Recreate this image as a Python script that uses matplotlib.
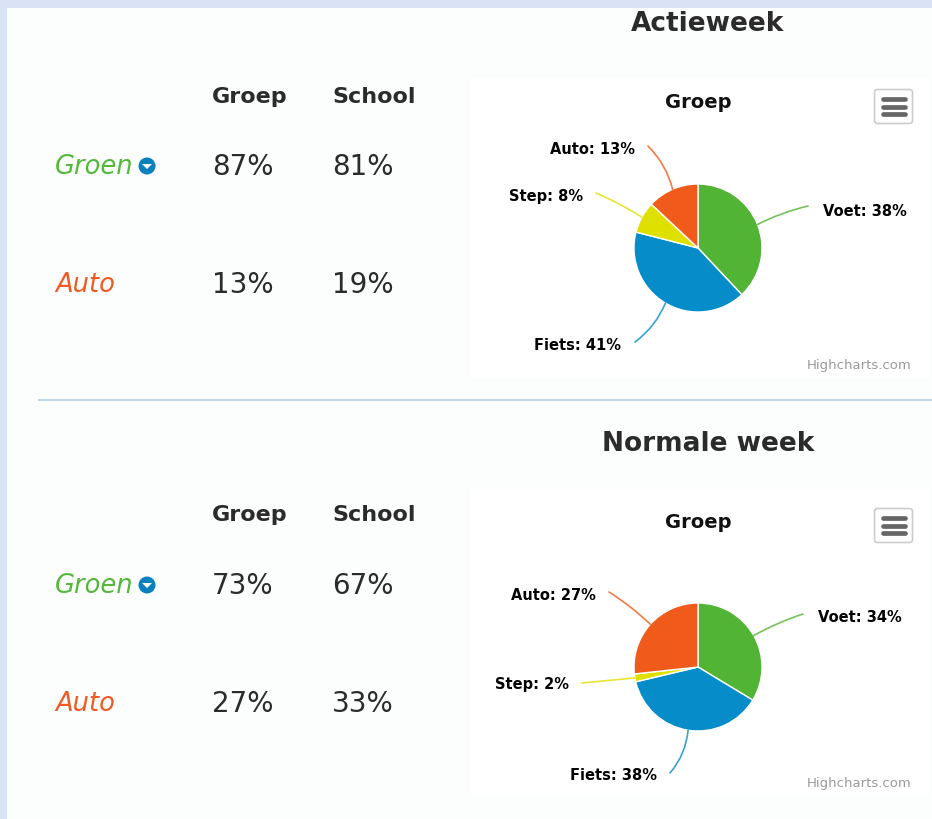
import numpy as np
import matplotlib
matplotlib.use("Agg")
import matplotlib.pyplot as plt
from matplotlib.patches import Rectangle, FancyBboxPatch, Circle, Polygon

W = 932
H = 819

# Data
slices = ["Voet", "Fiets", "Step", "Auto"]
actie_vals = [38, 41, 8, 13]
normaal_vals = [34, 38, 2, 27]
slice_colors = ["#52b434", "#068cc8", "#e0e000", "#f05a1a"]

actie_table = {"Groen": [87, 81], "Auto": [13, 19]}
normaal_table = {"Groen": [73, 67], "Auto": [27, 33]}

# Label and connector positions in pixels
actie_text = [(864.5, 211), (577, 346), (546, 196), (592, 150)]
actie_ends = [(808, 206), (635, 342), (596, 193), (648, 146)]
actie_rad = [-0.06, -0.14, 0.04, 0.14]
normaal_text = [(859.5, 617), (614, 776), (532, 685), (553, 596)]
normaal_ends = [(803, 614), (670, 773), (582, 683), (609, 592)]
normaal_rad = [-0.05, -0.16, 0.0, 0.05]

text_col = "#2b2b2b"
green = "#55b83a"
orange = "#f05a22"

fig = plt.figure(figsize=(W / 100, H / 100), dpi=100, facecolor="#fcfefe")

# Pixel coordinate overlay for all the page stuff
bg = fig.add_axes([0, 0, 1, 1], zorder=0)
bg.set_xlim(0, W)
bg.set_ylim(H, 0)
bg.axis("off")
bg.add_patch(Rectangle((0, 0), W, 8, color="#d9e3f5", lw=0))
bg.add_patch(Rectangle((0, 0), 7, H, color="#d9e3f5", lw=0))
bg.add_patch(Rectangle((470, 78), 460, 300, color="white", lw=0))
bg.add_patch(Rectangle((470, 490), 460, 305, color="white", lw=0))
bg.plot([39, W], [400, 400], color="#b4cee6", lw=1.2)

top = fig.add_axes([0, 0, 1, 1], zorder=5)
top.set_xlim(0, W)
top.set_ylim(H, 0)
top.axis("off")
top.patch.set_alpha(0)


def draw_section(title, title_y, table, rows_y, head_y, vals, cy, text_pos, ends, rads):
    top.text(708, title_y, title, fontsize=19, fontweight="bold", color=text_col, ha="center", va="center")
    top.text(250, head_y, "Groep", fontsize=16, fontweight="bold", color=text_col, ha="center", va="center")
    top.text(374, head_y, "School", fontsize=16, fontweight="bold", color=text_col, ha="center", va="center")

    # table rows
    for (name, row), y, col, x in zip(table.items(), rows_y, [green, orange], [94, 85]):
        top.text(x, y, name, fontsize=18.5, style="italic", color=col, ha="center", va="center")
        top.text(243, y, str(row[0]) + "%", fontsize=20, color=text_col, ha="center", va="center")
        top.text(363, y, str(row[1]) + "%", fontsize=20, color=text_col, ha="center", va="center")

    # dropdown icon next to Groen
    icon_y = rows_y[0] - 1
    top.add_patch(Circle((147, icon_y), 8.5, color="#0b80bd", lw=0))
    top.add_patch(Polygon([(142, icon_y - 2), (152, icon_y - 2), (147, icon_y + 3)], color="white", lw=0))

    # the pie
    cx = 698
    r = 64
    ax = fig.add_axes([(cx - r) / W, 1 - (cy + r) / H, 2 * r / W, 2 * r / H], zorder=3)
    ax.pie(vals, colors=slice_colors, startangle=90, counterclock=False,
           wedgeprops={"edgecolor": "white", "linewidth": 1})
    ax.set_xlim(-1, 1)
    ax.set_ylim(-1, 1)

    # connectors start at the middle of each slice's arc
    fracs = np.array(vals) / sum(vals)
    mids = (np.cumsum(fracs) - fracs / 2) * 2 * np.pi
    for i in range(len(slices)):
        sx = cx + r * np.sin(mids[i])
        sy = cy - r * np.cos(mids[i])
        top.annotate("", xy=ends[i], xytext=(sx, sy),
                     arrowprops=dict(arrowstyle="-", color=slice_colors[i], lw=1.2, alpha=0.8,
                                     shrinkA=0, shrinkB=0,
                                     connectionstyle="arc3,rad=%s" % rads[i]))
        top.text(text_pos[i][0], text_pos[i][1], "%s: %d%%" % (slices[i], vals[i]),
                 fontsize=10.5, fontweight="bold", color="black", ha="center", va="center")

    # chart title, credit and menu button
    top.text(cx, cy - 145, "Groep", fontsize=14, fontweight="bold", color="#111111", ha="center", va="center")
    top.text(859, cy + 117, "Highcharts.com", fontsize=9.5, color="#999999", ha="center", va="center")
    by = cy - 141.5
    top.add_patch(FancyBboxPatch((876, by - 15.5), 35, 31, boxstyle="round,pad=1.5,rounding_size=3",
                                 facecolor="white", edgecolor="#cccccc", lw=1.2))
    for dy in [-7.5, 0, 7.5]:
        top.plot([883, 905], [by + dy, by + dy], color="#666666", lw=3.4, solid_capstyle="round")


draw_section("Actieweek", 24, actie_table, [167, 285], 97, actie_vals, 248,
             actie_text, actie_ends, actie_rad)
draw_section("Normale week", 444, normaal_table, [586, 704], 515, normaal_vals, 667,
             normaal_text, normaal_ends, normaal_rad)

fig.savefig("out.png", dpi=100, facecolor=fig.get_facecolor())
